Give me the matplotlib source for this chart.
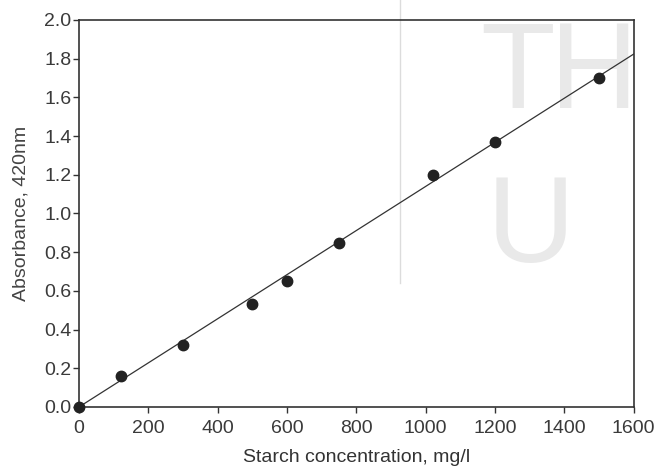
import matplotlib
matplotlib.use('Agg')
import matplotlib.pyplot as plt

# Data
starch = [0, 120, 300, 500, 600, 750, 1020, 1200, 1500]
absorbance = [0.0, 0.16, 0.32, 0.53, 0.65, 0.85, 1.20, 1.37, 1.70]
fit_x = [0, 1600]
fit_y = [0.0, 1.824]

plt.rcParams['font.family'] = ['Liberation Sans', 'DejaVu Sans']

fig = plt.figure(figsize=(6.57, 4.69), dpi=100)

# faint watermark behind the plot
bg = fig.add_axes([0, 0, 1, 1], zorder=0)
bg.set_xlim(0, 657)
bg.set_ylim(469, 0)
bg.axis('off')
bg.plot([400, 400], [0, 283], color='#dcdcdc', lw=1)
wm = dict(fontsize=88, color='#e9e9e9', va='baseline', ha='left')
bg.text(480, 108, 'T', **wm)
bg.text(550, 108, 'H', **wm)
bg.text(487, 262, 'U', **wm)

ax = fig.add_axes([0.1202, 0.1322, 0.8444, 0.8252], zorder=1)
ax.patch.set_alpha(0)

ax.plot(fit_x, fit_y, color='#333333', lw=0.9, zorder=2)
ax.plot(starch, absorbance, 'o', color='#222222', markersize=7.5, zorder=3, clip_on=False)

ax.set_xlim(0, 1600)
ax.set_ylim(0, 2.0)
ax.set_xticks(range(0, 1601, 200))
ax.set_yticks([i / 10 for i in range(0, 21, 2)])
ax.yaxis.set_major_formatter(matplotlib.ticker.FormatStrFormatter('%.1f'))
ax.tick_params(direction='out', length=4.3, width=1, labelsize=14, labelcolor='#3a3a3a', color='#333333')
ax.tick_params(axis='y', pad=1)
ax.tick_params(axis='x', pad=5)

for s in ax.spines.values():
    s.set_color('#333333')
    s.set_linewidth(1.2)

ax.set_xlabel('Starch concentration, mg/l', fontsize=14, color='#333333', labelpad=9)
ax.set_ylabel('Absorbance, 420nm', fontsize=14, color='#444444', labelpad=11)

fig.savefig('out.png', dpi=100)
